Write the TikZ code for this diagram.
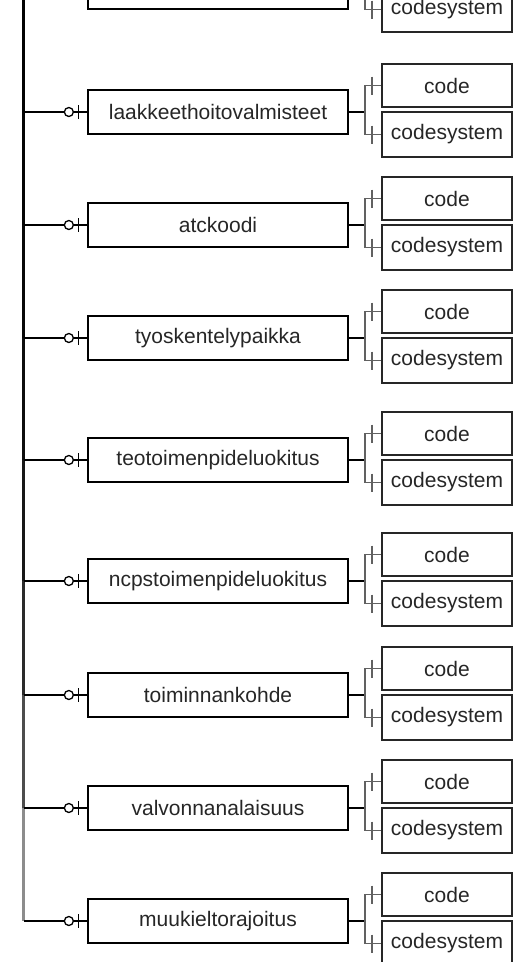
\documentclass[tikz,border=0pt]{standalone}
\usepackage{fontspec}
\setmainfont{Liberation Sans}
\begin{document}
\begin{tikzpicture}[x=1pt,y=-1pt,
  lbl/.style={font=\fontsize{21}{24}\selectfont,text=black!85},
  mainbox/.style={lbl,draw=black,line width=1.3pt,minimum width=260pt,minimum height=44pt,inner sep=0pt},
  codebox/.style={lbl,draw=black!85,line width=1.5pt,minimum width=130pt,minimum height=43pt,inner sep=0pt},
  csbox/.style={codebox,minimum height=45pt,line width=1.9pt},
  spine/.style={line width=2.6pt,draw=black,draw opacity=0.45},
  conn/.style={line width=1.3pt,draw=black},
  branch/.style={line width=1.9pt,draw=black!62},
]
\useasboundingbox (0,0) rectangle (526,962);
\coordinate (top) at (23.5,-40);
\foreach \i/\y/\t in {0/-13/{},1/112/laakkeethoitovalmisteet,2/225/atckoodi,3/338/tyoskentelypaikka,4/460/teotoimenpideluokitus,5/581/ncpstoimenpideluokitus,6/695/toiminnankohde,7/808/valvonnanalaisuus,8/921/muukieltorajoitus}{
  \node[mainbox] (m\i) at (218,\y) {\t};
  \node[codebox] (c\i) at (447,\y-26.5) {code};
  \node[csbox] (s\i) at (447,\y+22.5) {codesystem};
  \draw[spine] (top) -- (top |- m\i.west);
  \draw[conn] (top |- m\i.west) -- (m\i.west);
  \draw[conn,fill=white] ([xshift=-18.5pt]m\i.west) circle (4.5pt);
  \draw[conn] ([xshift=-9pt,yshift=7pt]m\i.west) -- ([xshift=-9pt,yshift=-7pt]m\i.west);
  \draw[conn] (m\i.east) -- ++(16,0) coordinate (b\i);
  \draw[branch] (b\i) |- (c\i.west);
  \draw[branch] (b\i) |- (s\i.west);
  \draw[branch] ([xshift=-9pt,yshift=9pt]c\i.west) -- ([xshift=-9pt,yshift=-9pt]c\i.west);
  \draw[branch] ([xshift=-9pt,yshift=9pt]s\i.west) -- ([xshift=-9pt,yshift=-9pt]s\i.west);
}
\end{tikzpicture}
\end{document}
